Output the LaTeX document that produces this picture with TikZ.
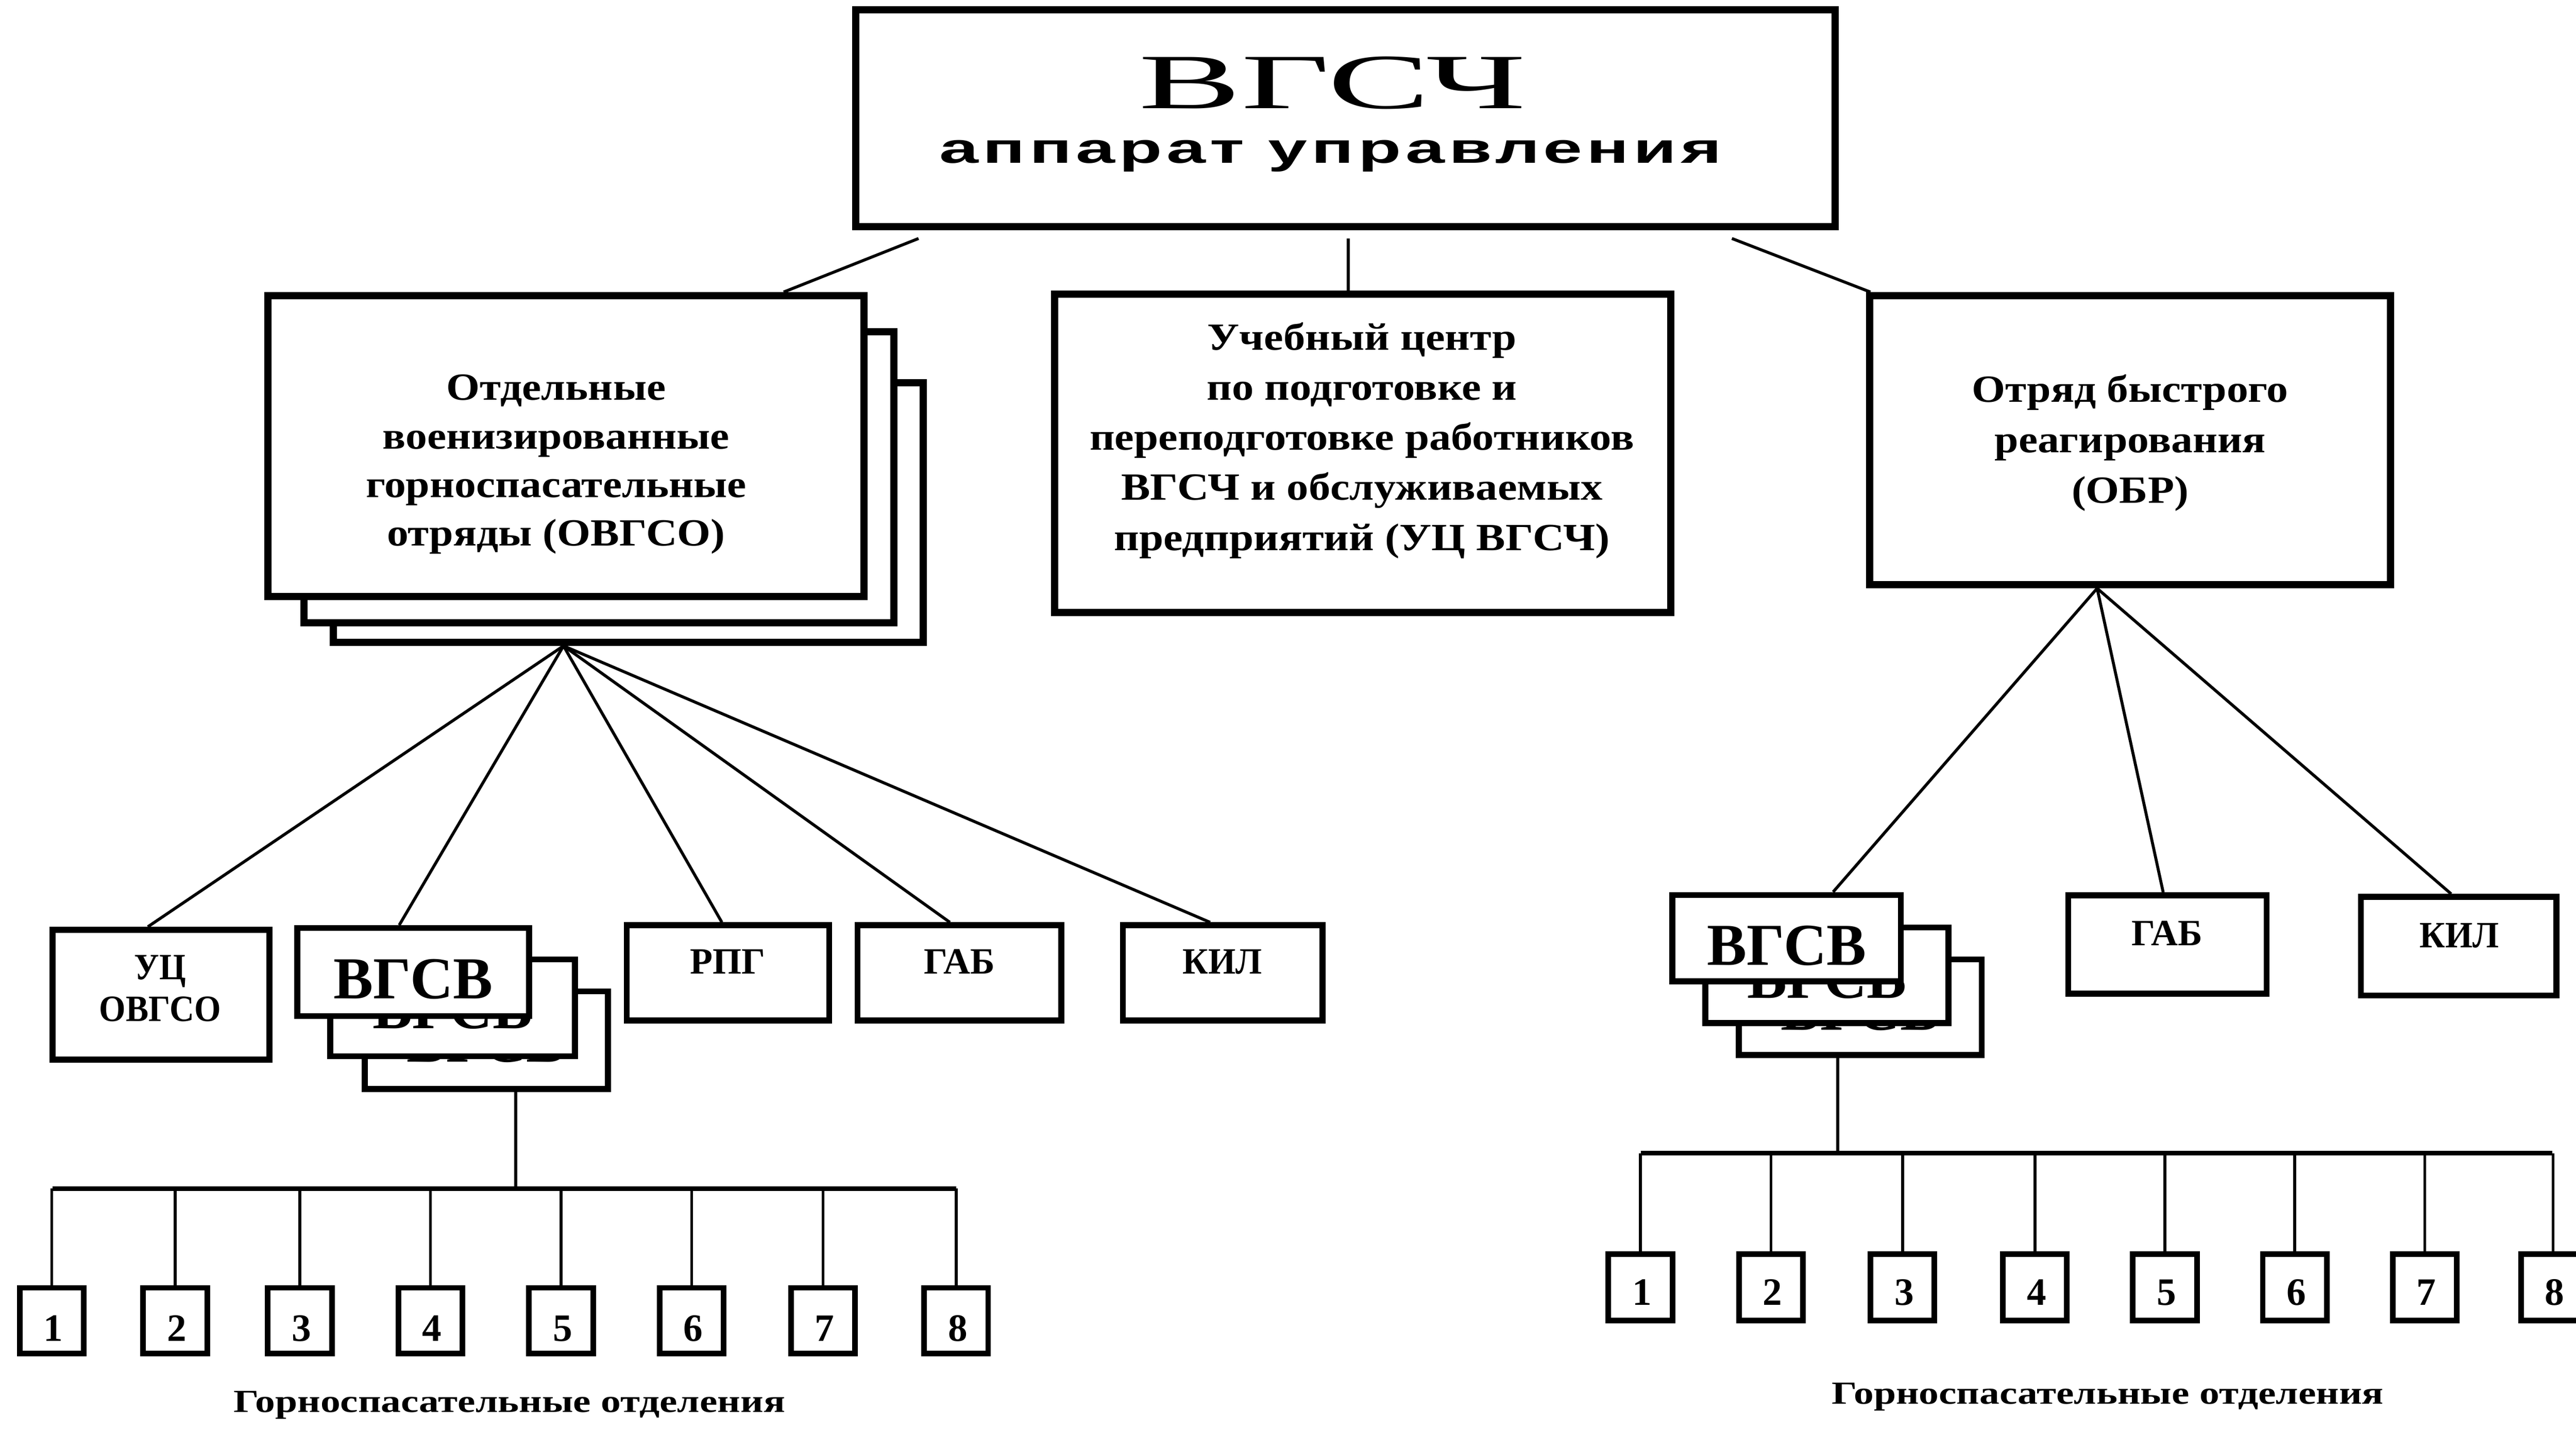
\documentclass[tikz,border=0pt]{standalone}
\usepackage{fontspec}
\usepackage{graphicx}
\setmainfont{Liberation Serif}
\newfontfamily\widesans{Liberation Sans}[LetterSpace=6]
\usetikzlibrary{fit,calc}
\newcommand\ml[1]{\begin{tabular}[t]{@{}c@{}}#1\end{tabular}}
\begin{document}
\begin{tikzpicture}[x=0.5pt,y=-0.5pt,
  box/.style={draw, fill=white, line width=2.2pt, inner sep=0pt},
  sbox/.style={draw, fill=white, line width=1.8pt, inner sep=0pt},
  nbox/.style={draw, fill=white, line width=1.7pt, inner sep=0pt},
  conn/.style={line width=0.9pt},
  busline/.style={line width=1.4pt},
  lbl/.style={inner sep=0pt, anchor=base},
  vgsv/.style={lbl, font=\bfseries\fontsize{18.1}{20}\selectfont},
  abbr/.style={lbl, font=\bfseries\fontsize{11.3}{13}\selectfont},
  num/.style={lbl, font=\bfseries\fontsize{11.8}{13}\selectfont},
  capt/.style={lbl, font=\bfseries\fontsize{9.8}{12}\selectfont}]
\useasboundingbox (0,0) rectangle (1568,870.4);

% ---------- top level ----------
\node[box, fit={(521,6) (1117,138)}] (top) {};
\node[lbl, font=\fontsize{23.8}{26}\selectfont] (topt1) at (811,66) {\scalebox{1.96}[1]{ВГСЧ}};
\node[lbl, font=\bfseries\widesans\fontsize{12.9}{14}\selectfont] (topt2) at (810,99.4) {\scalebox{1.66}[1]{аппарат управления}};

% ---------- second level ----------
\node[box, fit={(203,233) (562,391)}] (ov3) {};
\node[box, fit={(185,202) (544,379)}] (ov2) {};
\node[box, fit={(163,180) (526,363)}] (ov1) {};
\node[lbl, font=\bfseries\fontsize{11.7}{14.8}\selectfont] (ovt) at (338.5,243.6)
  {\scalebox{1.12}[1]{\ml{Отдельные\\военизированные\\горноспасательные\\отряды (ОВГСО)}}};

\node[box, fit={(642,179) (1017,373)}] (uc) {};
\node[lbl, font=\bfseries\fontsize{11.7}{15.25}\selectfont] (uct) at (829,213)
  {\scalebox{1.135}[1]{\ml{Учебный центр\\по подготовке и\\переподготовке работников\\ВГСЧ и обслуживаемых\\предприятий (УЦ ВГСЧ)}}};

\node[box, fit={(1138,180) (1455,356)}] (obr) {};
\node[lbl, font=\bfseries\fontsize{11.7}{15.35}\selectfont] (obrt) at (1296.6,244.9)
  {\scalebox{1.12}[1]{\ml{Отряд быстрого\\реагирования\\(ОБР)}}};

\draw[conn] ($(top.south west)+(40.3,5)$) -- (477,0 |- ov1.north);
\draw[conn] (820.6,0 |- top.south) ++(0,5) -- (820.6,0 |- uc.north);
\draw[conn] ($(top.south west)+(535.4,5)$) -- (1138.5,0 |- obr.north);

% ---------- left branch ----------
\node[sbox, fit={(32,566) (164,645)}] (ucov) {};
\node[abbr, font=\bfseries\fontsize{11.3}{12.7}\selectfont] (ucovt) at (97.5,596.3) {\scalebox{0.92}[1]{\ml{УЦ\\ОВГСО}}};

\node[sbox, fit={(222,603.5) (370,663)}] (vl3) {};
\node[vgsv] (vl3t) at (296,646.5) {ВГСВ};
\node[sbox, fit={(201,584) (350,643)}] (vl2) {};
\node[vgsv] (vl2t) at (275.5,626) {ВГСВ};
\node[sbox, fit={(181,565) (322,618.5)}] (vl1) {};
\node[vgsv] (vl1t) at (251.5,608) {ВГСВ};

\node[sbox, fit={(381.5,563.3) (504.7,621.3)}] (rpg) {};
\node[abbr] (rpgt) at (443,593) {РПГ};
\node[sbox, fit={(522,563.3) (646,621.3)}] (gabl) {};
\node[abbr] (gablt) at (584,593) {ГАБ};
\node[sbox, fit={(683.4,563.3) (805,621.3)}] (kill) {};
\node[abbr] (killt) at (744,593) {\scalebox{0.95}[1]{КИЛ}};

\coordinate (ovhub) at (343,0 |- ov3.south);
\draw[conn] (ovhub) -- (90,0 |- ucov.north);
\draw[conn] (ovhub) -- (243,0 |- vl1.north);
\draw[conn] (ovhub) -- (439.4,0 |- rpg.north);
\draw[conn] (ovhub) -- (578.2,0 |- gabl.north);
\draw[conn] (ovhub) -- (736.6,0 |- kill.north);

\coordinate (busl) at (313.8,723.6);
\draw[conn] (313.8,0 |- vl3.south) -- (busl);
\draw[busline] (32,723.6) -- (582,723.6);
\foreach \i/\cx in {1/31.5,2/106.6,3/182.5,4/262,5/341.5,6/421,7/501,8/582}{
  \node[nbox, fit={(\cx-19.5,784) (\cx+19.5,824)}] (nl\i) {};
  \node[num] (nl\i t) at (\cx+1,816.3) {\i};
  \draw[conn] (\cx,723.6) -- (nl\i.north);
}
\node[capt] (captl) at (310,859.8) {\scalebox{1.24}[1]{Горноспасательные отделения}};

% ---------- right branch ----------
\node[sbox, fit={(1058.4,584) (1206.2,642.2)}] (vr3) {};
\node[vgsv] (vr3t) at (1132.3,627) {ВГСВ};
\node[sbox, fit={(1038,564.6) (1186,622.8)}] (vr2) {};
\node[vgsv] (vr2t) at (1112,607.6) {ВГСВ};
\node[sbox, fit={(1018,544.8) (1157,597.4)}] (vr1) {};
\node[vgsv] (vr1t) at (1087.5,587.6) {ВГСВ};

\node[sbox, fit={(1259,545) (1379.6,605)}] (gabr) {};
\node[abbr] (gabrt) at (1319,575.5) {ГАБ};
\node[sbox, fit={(1437,546) (1556,606)}] (kilr) {};
\node[abbr] (kilrt) at (1497,577) {\scalebox{0.95}[1]{КИЛ}};

\coordinate (obrhub) at (1276.5,0 |- obr.south);
\draw[conn] (obrhub) -- (1115.8,0 |- vr1.north);
\draw[conn] (obrhub) -- (1316.7,0 |- gabr.north);
\draw[conn] (obrhub) -- (1492,0 |- kilr.north);

\coordinate (busr) at (1118.5,702);
\draw[conn] (1118.5,0 |- vr3.south) -- (busr);
\draw[busline] (998.7,702) -- (1553.4,702);
\foreach \i/\cx in {1/998.5,2/1078,3/1158,4/1238.6,5/1317.7,6/1396.8,7/1475.9,8/1554}{
  \node[nbox, fit={(\cx-19.5,763.5) (\cx+19.5,803.8)}] (nr\i) {};
  \node[num] (nr\i t) at (\cx+1,794.4) {\i};
  \draw[conn] (\cx,702) -- (nr\i.north);
}
\node[capt] (captr) at (1283,854.7) {\scalebox{1.24}[1]{Горноспасательные отделения}};
\end{tikzpicture}
\end{document}
